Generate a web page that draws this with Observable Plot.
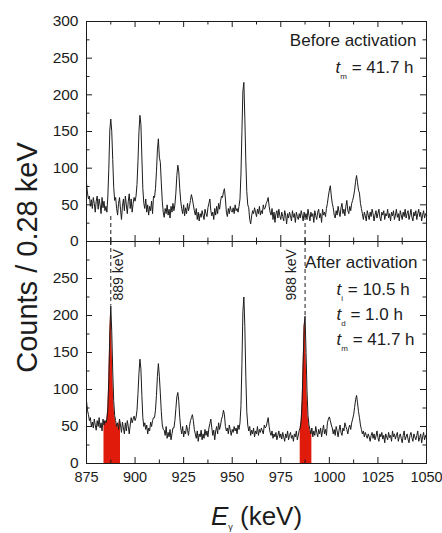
<!DOCTYPE html>
<html><head><meta charset="utf-8">
<script src="https://cdn.jsdelivr.net/npm/d3@7"></script>
<script src="https://cdn.jsdelivr.net/npm/@observablehq/plot@0.6"></script>
<style>
body{margin:0;background:#fff;}
#chart{position:relative;width:442px;height:533px;overflow:hidden;}
#chart svg{position:absolute;left:0;overflow:visible;background:transparent;}
</style></head><body><div id="chart"></div>
<script>
// channel grid (0.5 keV bins)
const energyStart = 875, energyStep = 0.5;

const countsBefore = [
80,66,58,62,48,57,45,60,52,40,
55,62,44,58,50,38,60,46,55,42,
48,40,62,100,152,167,150,112,74,56,
60,45,36,52,60,44,30,48,58,42,
62,50,38,55,65,45,58,40,52,60,
55,62,78,110,150,172,160,115,72,52,
45,58,40,50,36,48,42,55,38,62,
60,72,95,125,140,115,108,80,55,40,
33,45,38,50,36,44,32,48,40,52,
42,50,66,90,104,95,72,55,45,38,
50,35,46,38,52,42,48,56,64,58,
50,42,36,45,30,40,28,38,33,42,
36,30,44,38,34,46,52,58,42,35,
40,30,45,36,48,38,52,44,55,62,
60,68,72,58,40,34,45,38,48,42,
40,46,38,50,42,45,40,48,58,92,
150,205,217,168,110,68,50,46,30,24,
35,42,38,46,40,34,44,38,48,36,
42,38,50,44,46,52,55,60,48,40,
36,45,30,40,26,38,42,32,44,35,
30,40,34,28,42,36,24,38,32,40,
35,28,42,33,38,26,40,34,30,38,
32,42,36,28,40,33,38,30,44,36,
28,40,34,38,26,42,35,30,40,44,
32,38,26,44,36,40,34,45,52,62,
70,76,62,52,46,36,32,42,36,48,
40,34,46,52,38,44,35,48,56,42,
38,48,42,52,56,62,70,82,90,80,
70,66,52,45,38,30,40,35,28,42,
36,30,40,34,44,38,28,36,42,32,
38,44,33,28,40,36,42,30,38,35,
44,32,38,28,40,35,42,30,36,44,
33,38,28,42,36,30,40,34,44,32,
38,42,30,36,44,33,28,40,35,42,
30,38,44,34,40,28,36,42,32,38,
36];

const countsAfter = [
85,72,66,58,62,50,56,48,60,52,
45,58,50,62,48,55,44,60,52,58,
55,60,75,115,175,213,178,125,85,65,
58,50,55,46,60,52,42,56,48,40,
55,44,58,50,40,52,62,55,60,64,
58,62,72,95,122,141,128,92,62,50,
55,46,52,40,48,44,56,50,58,62,
62,72,92,118,135,118,95,70,52,46,
45,38,50,34,42,36,46,32,40,48,
48,58,74,90,96,84,62,48,40,50,
36,44,40,52,45,38,50,58,62,66,
58,46,40,34,44,30,40,36,45,32,
40,34,46,38,44,36,48,54,60,48,
38,45,32,44,50,40,55,46,52,60,
64,72,66,50,44,48,40,52,45,38,
46,42,50,44,48,40,52,46,55,78,
135,205,225,185,118,70,52,44,50,38,
45,40,48,36,44,40,50,38,46,42,
48,44,40,52,48,50,56,62,50,42,
38,44,34,40,36,42,32,38,44,35,
40,33,42,36,30,40,35,44,32,38,
42,34,38,30,40,36,44,32,38,45,
48,58,85,135,185,199,150,98,65,52,
46,40,48,36,44,38,50,42,36,46,
40,48,36,44,52,40,46,38,55,60,
63,58,52,48,40,46,38,50,44,36,
45,52,42,38,48,44,55,50,46,40,
48,52,46,55,60,66,76,86,92,82,
70,62,52,46,40,44,36,42,38,34,
40,36,30,38,42,34,40,32,37,44,
35,30,40,36,42,33,38,28,40,36,
32,42,35,38,30,44,36,40,33,38,
42,30,36,40,34,28,38,44,32,36,
40,33,28,38,42,35,30,40,36,32,
38,44,30,35,40,28,36,42,32,38,
34];

const xTicks = [875,887.5,900,912.5,925,937.5,950,962.5,975,987.5,1000,1012.5,1025,1037.5,1050];
const xTickLabels = [875,900,925,950,975,1000,1025,1050];
const yTicks = [0,25,50,75,100,125,150,175,200,225,250,275,300];
const yTickLabelsTop = [0,50,100,150,200,250,300];
const yTickLabelsBottom = [0,50,100,150,200,250];
const yDomain = [0,300];
const xDomain = [875,1050];

const markerEnergies = [887.5, 987.5];
const markerLabels = ["889 keV", "988 keV"];
const markerDashTop = [38, 34];           // dashed stub height in the upper panel
const redRanges = [[884, 892.5], [985, 991]];

const textBefore = ["Before activation", "t_m = 41.7 h"];
const textAfter = ["After activation", "t_i = 10.5 h", "t_d = 1.0 h", "t_m = 41.7 h"];
const xLabel = "E_γ (keV)";
const yLabel = "Counts / 0.28 keV";

const ink = "#1c1c1c";
const red = "#e01b0b";
const font = "'Liberation Sans', Arial, Helvetica, sans-serif";

function rich(subSize, shift) {
  return function(index, scales, values, dims, ctx, next) {
    const g = next(index, scales, values, dims, ctx);
    d3.select(g).selectAll("text").each(function() {
      const m = /^(.)_(.)(.*)$/.exec(this.textContent);
      if (!m) return;
      const t = d3.select(this);
      t.text(null);
      t.append("tspan").attr("font-style", "italic").text(m[1]);
      t.append("tspan").attr("font-size", subSize).attr("dy", shift).text(m[2]);
      t.append("tspan").attr("dy", -shift).style("white-space", "pre").text(m[3]);
    });
    return g;
  };
}

function panel({counts, height, marginTop, marginBottom, yLabels, extra}) {
  const W = 442, mL = 86, mR = 16;
  const fw = W - mL - mR, fh = height - marginTop - marginBottom;
  const major = 6, minor = 3.5;
  const isMajX = d => d % 25 === 0, isMajY = d => d % 50 === 0;
  const xMaj = xTicks.filter(isMajX), xMin = xTicks.filter(d => !isMajX(d));
  const yMaj = yTicks.filter(isMajY), yMin = yTicks.filter(d => !isMajY(d));
  const ts = {stroke: ink, strokeWidth: 1};
  return Plot.plot({
    width: W, height, marginTop, marginBottom, marginLeft: mL, marginRight: mR,
    x: {domain: xDomain, axis: null},
    y: {domain: yDomain},
    style: {fontFamily: font, fontSize: "15.5px", color: ink, background: "transparent", overflow: "visible"},
    marks: [
      ...extra.under,
      Plot.lineY(counts.map((c, i) => ({e: energyStart + i * energyStep, c})), {x: "e", y: "c", stroke: ink, strokeWidth: 1}),
      Plot.ruleX(xMaj, {x: d => d, insetTop: fh - major, ...ts}),
      Plot.ruleX(xMin, {x: d => d, insetTop: fh - minor, ...ts}),
      Plot.ruleX(xMaj, {x: d => d, insetBottom: fh - major, ...ts}),
      Plot.ruleX(xMin, {x: d => d, insetBottom: fh - minor, ...ts}),
      Plot.ruleY(yMaj, {y: d => d, insetRight: fw - major, ...ts}),
      Plot.ruleY(yMin, {y: d => d, insetRight: fw - minor, ...ts}),
      Plot.ruleY(yMaj, {y: d => d, insetLeft: fw - major, ...ts}),
      Plot.ruleY(yMin, {y: d => d, insetLeft: fw - minor, ...ts}),
      Plot.frame({stroke: ink, strokeWidth: 1}),
      Plot.axisY({ticks: yLabels, tickSize: 0, tickPadding: 8, label: null, fill: ink, tickFormat: d => String(d)}),
      ...extra.over
    ]
  });
}

const idx = [0, 1];
const countAt = (arr, e) => arr[Math.round((e - energyStart) / energyStep)];

// upper panel
const topPanel = panel({
  counts: countsBefore, height: 242, marginTop: 21, marginBottom: 1, yLabels: yTickLabelsTop,
  extra: {
    under: [
      Plot.ruleX(idx, {x: i => markerEnergies[i], y1: 0, y2: i => markerDashTop[i], stroke: ink, strokeWidth: 1, strokeDasharray: "4,3"})
    ],
    over: [
      Plot.text([textBefore[0]], {text: d => d, frameAnchor: "top-right", dx: -10, dy: 19, textAnchor: "end", lineAnchor: "middle", fontSize: 17, fill: ink}),
      Plot.text([textBefore[1]], {text: d => d, frameAnchor: "top-right", dx: -91, dy: 46, textAnchor: "start", lineAnchor: "middle", fontSize: 17, fill: ink, render: rich("8px", 6)})
    ]
  }
});

// lower panel
const redData = [];
countsAfter.forEach((c, i) => {
  const e = energyStart + i * energyStep;
  redRanges.forEach((r, k) => { if (e >= r[0] && e <= r[1]) redData.push({e, c, r: k}); });
});

const bottomPanel = panel({
  counts: countsAfter, height: 293, marginTop: 1, marginBottom: 70, yLabels: yTickLabelsBottom,
  extra: {
    under: [
      Plot.areaY(redData, {x: "e", y: "c", z: "r", fill: red}),
      Plot.ruleX(idx, {x: i => markerEnergies[i], y1: yDomain[1], y2: i => countAt(countsAfter, markerEnergies[i]), stroke: ink, strokeWidth: 1, strokeDasharray: "4,3"})
    ],
    over: [
      Plot.text([0], {x: i => markerEnergies[0], text: () => markerLabels[0], frameAnchor: "top", dx: 8, dy: 59, rotate: -90, textAnchor: "start", lineAnchor: "middle", fontSize: 14, fill: ink}),
      Plot.text([1], {x: i => markerEnergies[1], text: () => markerLabels[1], frameAnchor: "top", dx: -14, dy: 59, rotate: -90, textAnchor: "start", lineAnchor: "middle", fontSize: 14, fill: ink}),
      Plot.text([textAfter[0]], {text: d => d, frameAnchor: "top-right", dx: -9, dy: 21, textAnchor: "end", lineAnchor: "middle", fontSize: 17, fill: ink}),
      ...textAfter.slice(1).map((s, k) =>
        Plot.text([s], {text: d => d, frameAnchor: "top-right", dx: -90, dy: 48 + 25 * k, textAnchor: "start", lineAnchor: "middle", fontSize: 17, fill: ink, render: rich("8px", 6)})),
      Plot.axisX({ticks: xTickLabels, tickSize: 0, tickPadding: 8, label: null, fill: ink, fontSize: 14.5, tickFormat: d => String(d)}),
      Plot.text([xLabel], {text: d => d, frameAnchor: "bottom", dy: 53, lineAnchor: "middle", fontSize: 26, fill: ink, render: rich("9px", 5)}),
      Plot.text([yLabel], {text: d => d, frameAnchor: "top-left", dx: -59, dy: 16, rotate: -90, textAnchor: "middle", lineAnchor: "middle", fontSize: 29, fill: ink})
    ]
  }
});

topPanel.style.top = "0px";
bottomPanel.style.top = "240px";
const chart = document.getElementById("chart");
chart.appendChild(topPanel);
chart.appendChild(bottomPanel);
</script></body></html>
